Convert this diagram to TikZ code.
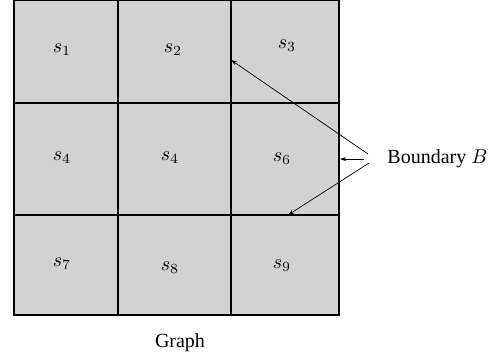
\documentclass[tikz,border=0pt]{standalone}
\usepackage{fontspec}
\setmainfont{Liberation Serif}
\usetikzlibrary{arrows.meta}
\definecolor{cellgray}{RGB}{211,210,210}
\tikzset{
  gridline/.style={line width=0.8pt, black},
  lbl/.style={inner sep=0pt, font=\fontsize{10}{12}\selectfont},
  pointer/.style={line width=0.35pt, -{Stealth[length=3pt,width=2pt]}}
}
\begin{document}
\begin{tikzpicture}[x=0.5pt,y=-0.5pt]
\useasboundingbox (0,0) rectangle (501,360);
\fill[cellgray] (14,0) rectangle (339,315);
\draw[gridline] (14,0) rectangle (339,315);
\draw[gridline] (118,0) -- (118,315);
\draw[gridline] (231,0) -- (231,315);
\draw[gridline] (14,103) -- (339,103);
\draw[gridline] (14,215) -- (339,215);
\node[lbl] (s1) at (62,50) {$s_1$};
\node[lbl] (s2) at (173,50) {$s_2$};
\node[lbl] (s3) at (287,46) {$s_3$};
\node[lbl] (s4a) at (62,158) {$s_4$};
\node[lbl] (s4b) at (170,158) {$s_4$};
\node[lbl] (s6) at (282,159) {$s_6$};
\node[lbl] (s7) at (62,264) {$s_7$};
\node[lbl] (s8) at (170,268) {$s_8$};
\node[lbl] (s9) at (282,266) {$s_9$};
\node[lbl, anchor=west] (B) at (387,159) {Boundary $B$};
\node[lbl] (graph) at (180,343) {Graph};
\coordinate (a1) at (368,154);
\coordinate (a2) at (364,159);
\coordinate (a3) at (369,163);
\coordinate (e1) at (231,60);
\coordinate (e2) at (340,159);
\coordinate (e3) at (288,215);
\draw[pointer] (a1) -- (e1);
\draw[pointer] (a2) -- (e2);
\draw[pointer] (a3) -- (e3);
\end{tikzpicture}
\end{document}
